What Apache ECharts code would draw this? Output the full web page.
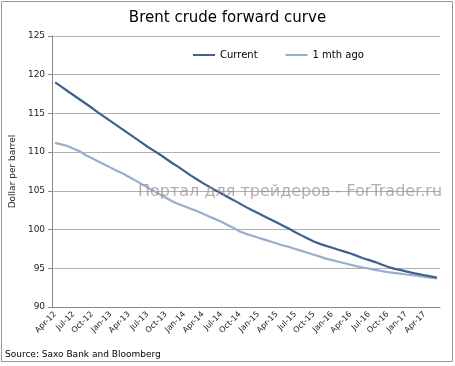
<!DOCTYPE html>
<html><head><meta charset="utf-8">
<script src="https://cdn.jsdelivr.net/npm/echarts@6/dist/echarts.min.js"></script>
<style>html,body{margin:0;padding:0;background:#fff}#c{width:455px;height:366px}</style>
</head><body><div id="c"></div>
<script>
const months = ['Jan','Feb','Mar','Apr','May','Jun','Jul','Aug','Sep','Oct','Nov','Dec'];
const categories = [];
for (let k = 0; k < 63; k++) { const m = (3 + k) % 12; const y = 12 + Math.floor((3 + k) / 12); categories.push(months[m] + '-' + y); }
const current = [119.0,118.45,117.9,117.35,116.8,116.25,115.7,115.1,114.55,114.0,113.45,112.9,112.35,111.8,111.25,110.7,110.2,109.7,109.15,108.6,108.1,107.55,107.0,106.5,106.0,105.55,105.1,104.65,104.2,103.8,103.35,102.9,102.5,102.1,101.7,101.3,100.9,100.5,100.1,99.65,99.25,98.85,98.45,98.15,97.9,97.65,97.4,97.15,96.9,96.6,96.3,96.05,95.8,95.5,95.2,94.95,94.8,94.6,94.4,94.25,94.1,93.95,93.8];
const monthAgo = [111.2,111.0,110.8,110.45,110.1,109.6,109.2,108.8,108.4,108.0,107.6,107.25,106.8,106.35,105.9,105.45,105.0,104.55,104.1,103.65,103.3,103.0,102.7,102.4,102.05,101.7,101.35,101.0,100.6,100.2,99.75,99.45,99.2,98.95,98.7,98.45,98.2,97.95,97.75,97.5,97.25,97.0,96.75,96.5,96.25,96.05,95.85,95.65,95.45,95.25,95.1,94.95,94.8,94.65,94.5,94.4,94.3,94.2,94.1,94.0,93.9,93.8,93.7];
const chart = echarts.init(document.getElementById('c'));
const F = 'DejaVu Sans, Verdana, sans-serif';
chart.setOption({
  animation: false,
  title: { text: 'Brent crude forward curve', left: 'center', top: 6, textStyle: { fontFamily: F, fontSize: 15, fontWeight: 'normal', color: '#000' } },
  legend: { top: 45, left: 188, itemWidth: 22, itemHeight: 2, itemGap: 28, icon: 'rect',
    textStyle: { fontFamily: F, fontSize: 10, color: '#000' }, data: ['Current','1 mth ago'] },
  grid: { left: 48, right: 15, top: 36, bottom: 59 },
  xAxis: { type: 'category', data: categories, boundaryGap: true,
    axisLine: { lineStyle: { color: '#888' } },
    axisTick: { interval: 2, length: 4, lineStyle: { color: '#888' } },
    axisLabel: { interval: 2, rotate: 45, fontFamily: F, fontSize: 8, color: '#222', margin: 6 } },
  yAxis: { type: 'value', min: 90, max: 125, interval: 5,
    name: 'Dollar per barrel', nameLocation: 'middle', nameGap: 31, nameRotate: 90,
    nameTextStyle: { fontFamily: F, fontSize: 9, color: '#222' },
    axisLine: { show: true, lineStyle: { color: '#888' } },
    axisTick: { show: true, length: 4, lineStyle: { color: '#888' } },
    axisLabel: { fontFamily: F, fontSize: 9, color: '#222', margin: 7 },
    splitLine: { lineStyle: { color: '#b0b0b0' } } },
  series: [
    { name: 'Current', type: 'line', data: current, symbol: 'none', smooth: false, lineStyle: { color: '#3d6190', width: 2.2 }, itemStyle: { color: '#3d6190' }, z: 3 },
    { name: '1 mth ago', type: 'line', data: monthAgo, symbol: 'none', smooth: false, lineStyle: { color: '#9badcd', width: 2.2 }, itemStyle: { color: '#9badcd' }, z: 2 }
  ],
  graphic: [
    { type: 'rect', shape: { x: 1.5, y: 1.5, width: 451, height: 360 }, style: { fill: 'none', stroke: '#999', lineWidth: 1 }, silent: true },
    { type: 'text', left: 5, top: 350, style: { text: 'Source: Saxo Bank and Bloomberg', fontFamily: F, fontSize: 9, fill: '#000' } },
    { type: 'text', left: 138, top: 184, z: 10, style: { text: 'Портал для трейдеров - ForTrader.ru', fontFamily: F, fontSize: 16, fill: 'rgba(150,140,138,0.7)' } }
  ]
});
</script></body></html>
